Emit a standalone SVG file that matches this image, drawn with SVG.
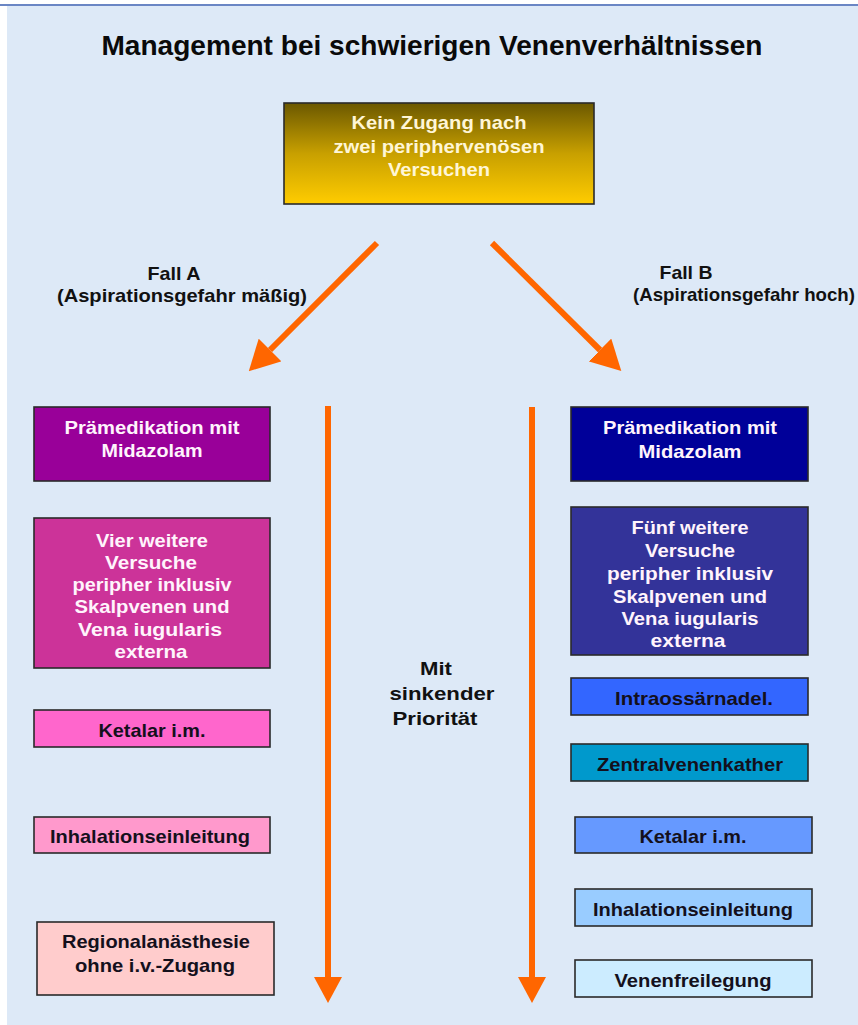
<svg xmlns="http://www.w3.org/2000/svg" width="858" height="1025" viewBox="0 0 858 1025">
<style>
text{font-family:"Liberation Sans",Arial,sans-serif;font-weight:bold;text-anchor:middle}
.box{stroke:#2a2a2a;stroke-width:1.6}
.lt{fill:#fff4fc;font-size:19px}
.dk{fill:#14101c;font-size:19px}
.lab{fill:#111;font-size:19px}
.arr{stroke:#ff6600;stroke-width:6;fill:none}
</style>
<defs>
<linearGradient id="gold" x1="0" y1="0" x2="0" y2="1">
<stop offset="0" stop-color="#6b5800"/>
<stop offset="0.5" stop-color="#c8a000"/>
<stop offset="1" stop-color="#ffcc00"/>
</linearGradient>
<marker id="hd" markerUnits="userSpaceOnUse" viewBox="0 0 30 32" refX="0" refY="16" markerWidth="30" markerHeight="32" orient="auto">
<path d="M0,0 L30,16 L0,32 Z" fill="#ff6600"/>
</marker>
<marker id="hv" markerUnits="userSpaceOnUse" viewBox="0 0 26 28" refX="0" refY="14" markerWidth="26" markerHeight="28" orient="auto">
<path d="M0,0 L26,14 L0,28 Z" fill="#ff6600"/>
</marker>
</defs>
<rect x="0" y="0" width="858" height="1025" fill="#ffffff"/>
<rect x="7" y="6" width="851" height="1019" fill="#dde9f7"/>
<rect x="0" y="4" width="858" height="2" fill="#6a86c4"/>

<text x="432" y="55" style="font-size:28px" fill="#0a0a0a" textLength="661" lengthAdjust="spacingAndGlyphs">Management bei schwierigen Venenverhältnissen</text>

<g id="connectors">
<line class="arr" x1="377" y1="243" x2="270" y2="350" marker-end="url(#hd)"/>
<line class="arr" x1="492" y1="243" x2="600" y2="350" marker-end="url(#hd)"/>
<line class="arr" x1="328" y1="406" x2="328" y2="977" marker-end="url(#hv)"/>
<line class="arr" x1="532" y1="407" x2="532" y2="977" marker-end="url(#hv)"/>
</g>

<g id="start">
<rect class="box" x="284" y="103" width="310" height="101" fill="url(#gold)"/>
<text x="439" y="129" fill="#fff6d6" style="font-size:19px" textLength="175" lengthAdjust="spacingAndGlyphs">Kein Zugang nach</text>
<text x="439" y="153" fill="#fff6d6" style="font-size:19px" textLength="211" lengthAdjust="spacingAndGlyphs">zwei periphervenösen</text>
<text x="439" y="176" fill="#fff6d6" style="font-size:19px" textLength="102" lengthAdjust="spacingAndGlyphs">Versuchen</text>
</g>

<g id="fallA">
<text class="lab" x="174" y="280" textLength="53" lengthAdjust="spacingAndGlyphs">Fall A</text>
<text class="lab" x="182" y="302" textLength="250" lengthAdjust="spacingAndGlyphs">(Aspirationsgefahr mäßig)</text>
</g>
<g id="fallB">
<text class="lab" x="686" y="279" textLength="53" lengthAdjust="spacingAndGlyphs">Fall B</text>
<text class="lab" x="744" y="301" textLength="222" lengthAdjust="spacingAndGlyphs">(Aspirationsgefahr hoch)</text>
</g>

<g id="prioritaet">
<text class="lab" x="436" y="675" textLength="32" lengthAdjust="spacingAndGlyphs">Mit</text>
<text class="lab" x="442" y="700" textLength="105" lengthAdjust="spacingAndGlyphs">sinkender</text>
<text class="lab" x="435" y="725" textLength="85" lengthAdjust="spacingAndGlyphs">Priorität</text>
</g>

<g id="a1">
<rect class="box" x="34" y="407" width="236" height="74" fill="#990099"/>
<text class="lt" x="152" y="434" textLength="175" lengthAdjust="spacingAndGlyphs">Prämedikation mit</text>
<text class="lt" x="152" y="457" textLength="101" lengthAdjust="spacingAndGlyphs">Midazolam</text>
</g>
<g id="a2">
<rect class="box" x="34" y="518" width="236" height="150" fill="#cc3399"/>
<text class="lt" x="152" y="547" textLength="112" lengthAdjust="spacingAndGlyphs">Vier weitere</text>
<text class="lt" x="151" y="569" textLength="92" lengthAdjust="spacingAndGlyphs">Versuche</text>
<text class="lt" x="152" y="591" textLength="159" lengthAdjust="spacingAndGlyphs">peripher inklusiv</text>
<text class="lt" x="152" y="613" textLength="155" lengthAdjust="spacingAndGlyphs">Skalpvenen und</text>
<text class="lt" x="150" y="636" textLength="144" lengthAdjust="spacingAndGlyphs">Vena iugularis</text>
<text class="lt" x="151" y="658" textLength="73" lengthAdjust="spacingAndGlyphs">externa</text>
</g>
<g id="a3">
<rect class="box" x="34" y="710" width="236" height="37" fill="#ff66cc"/>
<text class="dk" x="152" y="737" textLength="107" lengthAdjust="spacingAndGlyphs">Ketalar i.m.</text>
</g>
<g id="a4">
<rect class="box" x="34" y="817" width="236" height="36" fill="#ff99cc"/>
<text class="dk" x="150" y="843" textLength="200" lengthAdjust="spacingAndGlyphs">Inhalationseinleitung</text>
</g>
<g id="a5">
<rect class="box" x="37" y="922" width="237" height="73" fill="#ffcccc"/>
<text class="dk" x="156" y="948" textLength="188" lengthAdjust="spacingAndGlyphs">Regionalanästhesie</text>
<text class="dk" x="155" y="972" textLength="160" lengthAdjust="spacingAndGlyphs">ohne i.v.-Zugang</text>
</g>

<g id="b1">
<rect class="box" x="571" y="407" width="237" height="74" fill="#000099"/>
<text class="lt" x="690" y="434" textLength="174" lengthAdjust="spacingAndGlyphs">Prämedikation mit</text>
<text class="lt" x="690" y="458" textLength="103" lengthAdjust="spacingAndGlyphs">Midazolam</text>
</g>
<g id="b2">
<rect class="box" x="571" y="507" width="237" height="148" fill="#333399"/>
<text class="lt" x="690" y="534" textLength="117" lengthAdjust="spacingAndGlyphs">Fünf weitere</text>
<text class="lt" x="690" y="557" textLength="90" lengthAdjust="spacingAndGlyphs">Versuche</text>
<text class="lt" x="690" y="580" textLength="166" lengthAdjust="spacingAndGlyphs">peripher  inklusiv</text>
<text class="lt" x="690" y="603" textLength="154" lengthAdjust="spacingAndGlyphs">Skalpvenen und</text>
<text class="lt" x="690" y="625" textLength="137" lengthAdjust="spacingAndGlyphs">Vena iugularis</text>
<text class="lt" x="688" y="647" textLength="75" lengthAdjust="spacingAndGlyphs">externa</text>
</g>
<g id="b3">
<rect class="box" x="571" y="678" width="237" height="37" fill="#3366ff"/>
<text class="dk" x="694" y="705" textLength="158" lengthAdjust="spacingAndGlyphs">Intraossärnadel.</text>
</g>
<g id="b4">
<rect class="box" x="571" y="744" width="237" height="37" fill="#0099cc"/>
<text class="dk" x="690" y="771" textLength="186" lengthAdjust="spacingAndGlyphs">Zentralvenenkather</text>
</g>
<g id="b5">
<rect class="box" x="575" y="817" width="237" height="36" fill="#6699ff"/>
<text class="dk" x="693" y="843" textLength="107" lengthAdjust="spacingAndGlyphs">Ketalar i.m.</text>
</g>
<g id="b6">
<rect class="box" x="575" y="889" width="237" height="37" fill="#99ccff"/>
<text class="dk" x="693" y="916" textLength="200" lengthAdjust="spacingAndGlyphs">Inhalationseinleitung</text>
</g>
<g id="b7">
<rect class="box" x="575" y="960" width="237" height="37" fill="#ccecff"/>
<text class="dk" x="693" y="987" textLength="157" lengthAdjust="spacingAndGlyphs">Venenfreilegung</text>
</g>
</svg>
